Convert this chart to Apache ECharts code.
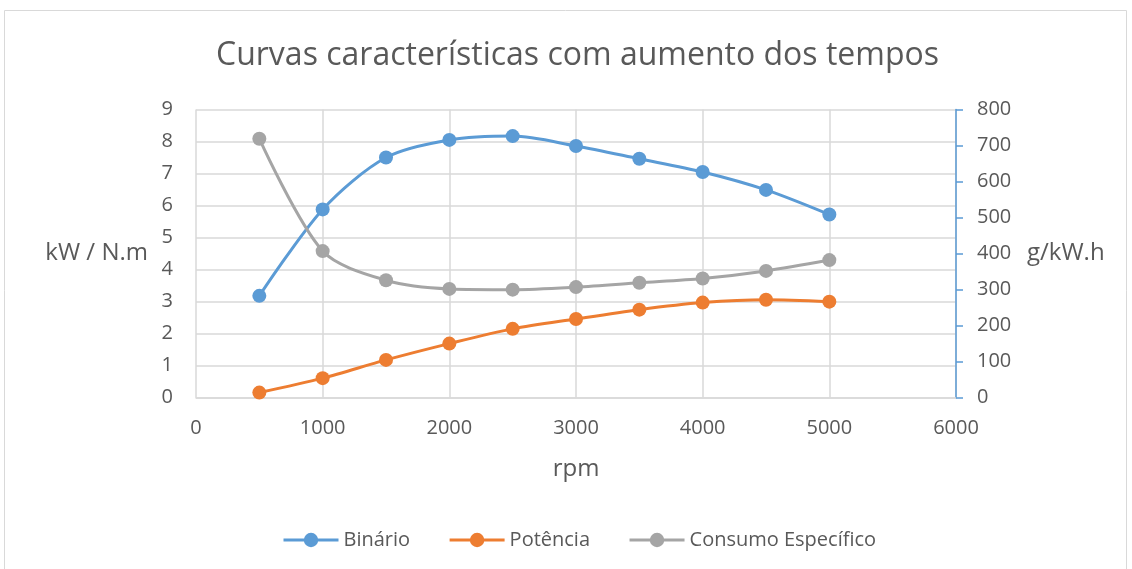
<!DOCTYPE html>
<html>
<head>
<meta charset="utf-8">
<script src="https://cdn.jsdelivr.net/npm/echarts@6/dist/echarts.min.js"></script>
<style>
  html, body { margin: 0; padding: 0; background: #fff; }
  #chart { width: 1132px; height: 569px; }
</style>
</head>
<body>
<div id="chart"></div>
<script>
const rpm = [500, 1000, 1500, 2000, 2500, 3000, 3500, 4000, 4500, 5000]
const binario = [3.18, 5.88, 7.5, 8.05, 8.17, 7.86, 7.46, 7.05, 6.49, 5.72]
const potencia = [0.16, 0.61, 1.18, 1.69, 2.15, 2.46, 2.75, 2.97, 3.06, 3.0]
const consumo = [719, 407, 326, 302, 300, 307, 319, 331, 352, 382]

const textColor = '#595959'
const gridColor = '#d9d9d9'
const font = 'Open Sans'

const chart = echarts.init(document.getElementById('chart'))

function pairs(ys) {
  return rpm.map((x, i) => [x, ys[i]])
}

function line(name, ys, color, axis) {
  return {
    name: name,
    type: 'line',
    yAxisIndex: axis,
    data: pairs(ys),
    smooth: 0.3,
    symbol: 'circle',
    symbolSize: 14,
    lineStyle: { width: 3, color: color },
    itemStyle: { color: color },
  }
}

const plain = v => String(v)

chart.setOption({
  animation: false,
  textStyle: { fontFamily: font },
  graphic: [{
    type: 'rect',
    shape: { x: 4.5, y: 10.5, width: 1122, height: 570 },
    style: { fill: 'none', stroke: '#d9d9d9', lineWidth: 1 },
  }],
  title: {
    text: 'Curvas características com aumento dos tempos',
    left: 211,
    top: 35,
    textStyle: { color: textColor, fontSize: 32, fontWeight: 'normal', fontFamily: font },
  },
  legend: {
    bottom: 14,
    left: 277,
    itemWidth: 55,
    itemHeight: 18,
    itemGap: 38,
    lineStyle: { width: 3 },
    textStyle: { color: textColor, fontSize: 20, fontFamily: font },
    data: ['Binário', 'Potência', 'Consumo Específico'],
  },
  grid: { left: 196, right: 176, top: 109.5, bottom: 171.3, outerBoundsMode: 'none', containLabel: false },
  xAxis: {
    type: 'value',
    min: 0,
    max: 6000,
    interval: 1000,
    name: 'rpm',
    nameLocation: 'middle',
    nameGap: 59,
    nameTextStyle: { color: textColor, fontSize: 24 },
    axisLine: { show: true, lineStyle: { color: gridColor, width: 1.5 } },
    axisTick: { show: false },
    axisLabel: { color: textColor, fontSize: 20, margin: 21, formatter: plain },
    splitLine: { show: true, lineStyle: { color: gridColor, width: 1.5 } },
  },
  yAxis: [{
    type: 'value',
    min: 0,
    max: 9,
    interval: 1,
    name: 'kW / N.m',
    nameLocation: 'middle',
    nameRotate: 0,
    nameGap: 48,
    nameTextStyle: { color: textColor, fontSize: 24 },
    axisLine: { show: false },
    axisTick: { show: false },
    axisLabel: { color: textColor, fontSize: 20, margin: 23 },
    splitLine: { show: true, lineStyle: { color: gridColor, width: 1.5 } },
  }, {
    type: 'value',
    min: 0,
    max: 800,
    interval: 100,
    position: 'right',
    name: 'g/kW.h',
    nameLocation: 'middle',
    nameRotate: 0,
    nameGap: 71,
    nameTextStyle: { color: textColor, fontSize: 24 },
    axisLine: { show: true, lineStyle: { color: '#5b9bd5', width: 1.5 } },
    axisTick: { show: true, length: 7, lineStyle: { color: '#5b9bd5', width: 1.5 } },
    axisLabel: { color: textColor, fontSize: 20, margin: 21 },
    splitLine: { show: false },
  }],
  series: [
    line('Binário', binario, '#5b9bd5', 0),
    line('Potência', potencia, '#ed7d31', 0),
    line('Consumo Específico', consumo, '#a5a5a5', 1),
  ],
})
</script>
</body>
</html>
